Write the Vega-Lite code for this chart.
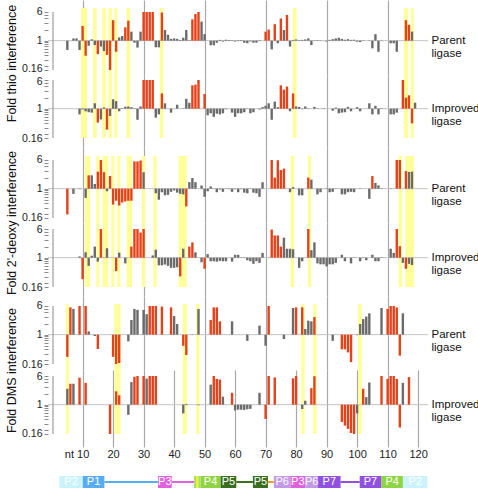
{
"$schema":"https://vega.github.io/schema/vega-lite/v6.json",
"padding":{"left":4,"top":0,"right":0,"bottom":0},
"spacing":17,
"config":{"view":{"stroke":null},"font":"Liberation Sans","axis":{"labelFont":"Liberation Sans","titleFont":"Liberation Sans"},"axisX":{"gridColor":"#a8a8a8","gridWidth":1.2,"labelOverlap":false,"labelSeparation":0,"labelBound":false,"labelFlush":false}},
"datasets":{
"thioBands":[{"s":9.5,"e":11.5},{"s":13.4,"e":14.6},{"s":16.4,"e":17.6},{"s":18.5,"e":19.6},{"s":20.4,"e":21.4},{"s":24.4,"e":25.6},{"s":35.3,"e":36.5},{"s":78.9,"e":80.1},{"s":115.3,"e":116.7},{"s":117.6,"e":118.6}],
"deoxyBands":[{"s":10.7,"e":12.5},{"s":14.5,"e":15.5},{"s":16.6,"e":18.4},{"s":19.4,"e":20.4},{"s":21.4,"e":22.4},{"s":24.4,"e":26.2},{"s":29.4,"e":30.5},{"s":33.2,"e":34.3},{"s":41.5,"e":44.1},{"s":78.2,"e":79.3},{"s":83.8,"e":84.9},{"s":113.6,"e":114.7},{"s":115.8,"e":118.6}],
"dmsBands":[{"s":4.5,"e":5.5},{"s":20.4,"e":22.4},{"s":42.8,"e":44.2},{"s":47.2,"e":48.3},{"s":81.7,"e":82.8},{"s":85.6,"e":86.7},{"s":100.3,"e":101.5}],
"thioP":[{"nt":5,"v":0.56,"c":"g"},{"nt":7,"v":1.15,"c":"g"},{"nt":8,"v":1.15,"c":"g"},{"nt":9,"v":0.56,"c":"g"},{"nt":10,"v":2.5,"c":"r"},{"nt":11,"v":0.39,"c":"r"},{"nt":12,"v":0.73,"c":"g"},{"nt":13,"v":1.09,"c":"g"},{"nt":14,"v":0.76,"c":"g"},{"nt":15,"v":0.43,"c":"r"},{"nt":16,"v":0.69,"c":"g"},{"nt":17,"v":0.52,"c":"g"},{"nt":18,"v":0.41,"c":"r"},{"nt":19,"v":0.16,"c":"r"},{"nt":20,"v":3.6,"c":"r"},{"nt":21,"v":0.5,"c":"r"},{"nt":22,"v":1.23,"c":"g"},{"nt":23,"v":1.34,"c":"g"},{"nt":24,"v":2.3,"c":"r"},{"nt":25,"v":3.5,"c":"r"},{"nt":26,"v":1.76,"c":"g"},{"nt":27,"v":0.88,"c":"g"},{"nt":28,"v":0.65,"c":"g"},{"nt":29,"v":1.76,"c":"g"},{"nt":30,"v":6,"c":"r"},{"nt":31,"v":6,"c":"r"},{"nt":32,"v":6,"c":"r"},{"nt":33,"v":6,"c":"r"},{"nt":34,"v":0.66,"c":"g"},{"nt":35,"v":0.66,"c":"g"},{"nt":36,"v":5.8,"c":"r"},{"nt":37,"v":1.95,"c":"g"},{"nt":38,"v":1.45,"c":"g"},{"nt":39,"v":1.12,"c":"g"},{"nt":40,"v":1.15,"c":"g"},{"nt":41,"v":1.12,"c":"g"},{"nt":42,"v":1.05,"c":"g"},{"nt":43,"v":1.2,"c":"g"},{"nt":44,"v":1.95,"c":"g"},{"nt":45,"v":1.03,"c":"g"},{"nt":46,"v":3.8,"c":"r"},{"nt":47,"v":5.3,"c":"r"},{"nt":48,"v":6,"c":"r"},{"nt":49,"v":3.3,"c":"g"},{"nt":50,"v":1.5,"c":"g"},{"nt":52,"v":0.75,"c":"g"},{"nt":53,"v":0.75,"c":"g"},{"nt":54,"v":0.88,"c":"g"},{"nt":55,"v":1.05,"c":"g"},{"nt":56,"v":0.95,"c":"g"},{"nt":57,"v":1.06,"c":"g"},{"nt":58,"v":1.04,"c":"g"},{"nt":59,"v":1.03,"c":"g"},{"nt":60,"v":0.95,"c":"g"},{"nt":61,"v":1.04,"c":"g"},{"nt":62,"v":1.04,"c":"g"},{"nt":63,"v":0.88,"c":"g"},{"nt":64,"v":0.85,"c":"g"},{"nt":65,"v":0.95,"c":"g"},{"nt":66,"v":0.88,"c":"g"},{"nt":67,"v":0.88,"c":"g"},{"nt":68,"v":1.03,"c":"g"},{"nt":70,"v":1.76,"c":"r"},{"nt":71,"v":2.0,"c":"r"},{"nt":72,"v":0.58,"c":"g"},{"nt":73,"v":2.8,"c":"r"},{"nt":74,"v":0.85,"c":"g"},{"nt":75,"v":4.0,"c":"r"},{"nt":76,"v":1.95,"c":"g"},{"nt":77,"v":5.0,"c":"r"},{"nt":78,"v":0.69,"c":"g"},{"nt":79,"v":1.05,"c":"g"},{"nt":80,"v":1.08,"c":"g"},{"nt":81,"v":1.03,"c":"g"},{"nt":82,"v":1.05,"c":"g"},{"nt":83,"v":1.08,"c":"g"},{"nt":84,"v":1.15,"c":"g"},{"nt":85,"v":0.76,"c":"g"},{"nt":86,"v":1.02,"c":"g"},{"nt":87,"v":1.03,"c":"g"},{"nt":88,"v":1.02,"c":"g"},{"nt":90,"v":0.95,"c":"g"},{"nt":91,"v":1.05,"c":"g"},{"nt":92,"v":1.1,"c":"g"},{"nt":93,"v":1.15,"c":"g"},{"nt":94,"v":1.2,"c":"g"},{"nt":95,"v":1.12,"c":"g"},{"nt":96,"v":1.06,"c":"g"},{"nt":97,"v":1.1,"c":"g"},{"nt":98,"v":1.05,"c":"g"},{"nt":99,"v":1.06,"c":"g"},{"nt":100,"v":0.94,"c":"g"},{"nt":101,"v":0.92,"c":"g"},{"nt":102,"v":1.02,"c":"g"},{"nt":104,"v":1.02,"c":"g"},{"nt":105,"v":0.62,"c":"g"},{"nt":106,"v":1.5,"c":"g"},{"nt":107,"v":0.5,"c":"g"},{"nt":108,"v":1.02,"c":"g"},{"nt":111,"v":0.85,"c":"g"},{"nt":112,"v":0.85,"c":"g"},{"nt":113,"v":0.5,"c":"g"},{"nt":116,"v":3.6,"c":"r"},{"nt":117,"v":2.7,"c":"r"},{"nt":118,"v":1.76,"c":"g"}],
"thioI":[{"nt":9,"v":0.7,"c":"g"},{"nt":10,"v":0.95,"c":"g"},{"nt":11,"v":0.85,"c":"g"},{"nt":12,"v":0.8,"c":"g"},{"nt":13,"v":0.78,"c":"g"},{"nt":14,"v":1.4,"c":"g"},{"nt":15,"v":0.42,"c":"r"},{"nt":16,"v":0.51,"c":"g"},{"nt":17,"v":1.08,"c":"g"},{"nt":18,"v":0.27,"c":"r"},{"nt":19,"v":0.63,"c":"g"},{"nt":20,"v":1.8,"c":"g"},{"nt":21,"v":1.6,"c":"g"},{"nt":22,"v":0.85,"c":"g"},{"nt":23,"v":1.03,"c":"g"},{"nt":24,"v":1.13,"c":"g"},{"nt":25,"v":1.15,"c":"g"},{"nt":26,"v":1.1,"c":"g"},{"nt":27,"v":1.03,"c":"g"},{"nt":28,"v":0.5,"c":"g"},{"nt":29,"v":1.15,"c":"g"},{"nt":30,"v":6,"c":"r"},{"nt":31,"v":6,"c":"r"},{"nt":32,"v":6,"c":"r"},{"nt":33,"v":6,"c":"r"},{"nt":34,"v":0.57,"c":"g"},{"nt":35,"v":0.7,"c":"g"},{"nt":36,"v":2.6,"c":"r"},{"nt":37,"v":1.4,"c":"g"},{"nt":39,"v":0.78,"c":"g"},{"nt":41,"v":1.28,"c":"g"},{"nt":43,"v":0.98,"c":"g"},{"nt":44,"v":1.85,"c":"g"},{"nt":45,"v":1.45,"c":"g"},{"nt":46,"v":4.3,"c":"r"},{"nt":47,"v":4.5,"c":"r"},{"nt":48,"v":6,"c":"r"},{"nt":50,"v":2.5,"c":"r"},{"nt":51,"v":0.66,"c":"g"},{"nt":52,"v":0.75,"c":"g"},{"nt":53,"v":0.6,"c":"g"},{"nt":54,"v":0.73,"c":"g"},{"nt":55,"v":0.7,"c":"g"},{"nt":56,"v":0.75,"c":"g"},{"nt":57,"v":0.96,"c":"g"},{"nt":59,"v":0.78,"c":"g"},{"nt":60,"v":0.6,"c":"g"},{"nt":61,"v":0.75,"c":"g"},{"nt":62,"v":0.75,"c":"g"},{"nt":63,"v":0.8,"c":"g"},{"nt":64,"v":0.98,"c":"g"},{"nt":65,"v":0.75,"c":"g"},{"nt":66,"v":0.8,"c":"g"},{"nt":68,"v":0.95,"c":"g"},{"nt":69,"v":1.1,"c":"g"},{"nt":70,"v":1.2,"c":"g"},{"nt":71,"v":1.4,"c":"g"},{"nt":72,"v":0.5,"c":"g"},{"nt":73,"v":1.55,"c":"g"},{"nt":74,"v":1.1,"c":"g"},{"nt":75,"v":4.3,"c":"r"},{"nt":76,"v":3.3,"c":"r"},{"nt":77,"v":4.0,"c":"r"},{"nt":78,"v":0.85,"c":"g"},{"nt":79,"v":2.6,"c":"r"},{"nt":80,"v":1.15,"c":"g"},{"nt":81,"v":1.12,"c":"g"},{"nt":82,"v":0.97,"c":"g"},{"nt":83,"v":1.15,"c":"g"},{"nt":84,"v":1.02,"c":"g"},{"nt":86,"v":1.12,"c":"g"},{"nt":87,"v":1.02,"c":"g"},{"nt":89,"v":1.03,"c":"g"},{"nt":92,"v":0.88,"c":"g"},{"nt":93,"v":1.07,"c":"g"},{"nt":94,"v":0.75,"c":"g"},{"nt":95,"v":0.78,"c":"g"},{"nt":96,"v":0.8,"c":"g"},{"nt":97,"v":1.12,"c":"g"},{"nt":98,"v":0.85,"c":"g"},{"nt":100,"v":1.1,"c":"g"},{"nt":101,"v":0.85,"c":"g"},{"nt":103,"v":1.0,"c":"g"},{"nt":104,"v":1.4,"c":"g"},{"nt":105,"v":0.7,"c":"g"},{"nt":106,"v":1.2,"c":"g"},{"nt":107,"v":0.7,"c":"g"},{"nt":108,"v":1.03,"c":"g"},{"nt":111,"v":0.7,"c":"g"},{"nt":112,"v":0.7,"c":"g"},{"nt":113,"v":0.78,"c":"g"},{"nt":115,"v":6,"c":"r"},{"nt":116,"v":2.0,"c":"r"},{"nt":117,"v":2.3,"c":"r"},{"nt":118,"v":0.4,"c":"r"},{"nt":119,"v":1.45,"c":"g"}],
"deoxyP":[{"nt":5,"v":0.2,"c":"r"},{"nt":7,"v":0.72,"c":"g"},{"nt":9,"v":0.97,"c":"g"},{"nt":11,"v":0.56,"c":"g"},{"nt":12,"v":2.3,"c":"r"},{"nt":13,"v":2.3,"c":"g"},{"nt":14,"v":1.34,"c":"g"},{"nt":15,"v":2.9,"c":"r"},{"nt":16,"v":6,"c":"r"},{"nt":17,"v":2.8,"c":"r"},{"nt":18,"v":0.85,"c":"g"},{"nt":19,"v":2.2,"c":"r"},{"nt":20,"v":0.37,"c":"r"},{"nt":21,"v":0.47,"c":"r"},{"nt":22,"v":0.35,"c":"r"},{"nt":23,"v":0.42,"c":"r"},{"nt":24,"v":0.45,"c":"r"},{"nt":25,"v":0.47,"c":"r"},{"nt":26,"v":0.47,"c":"r"},{"nt":27,"v":5.5,"c":"r"},{"nt":28,"v":5.5,"c":"r"},{"nt":29,"v":5.8,"c":"r"},{"nt":30,"v":2.8,"c":"g"},{"nt":34,"v":0.75,"c":"g"},{"nt":35,"v":0.5,"c":"g"},{"nt":36,"v":0.8,"c":"g"},{"nt":37,"v":0.66,"c":"g"},{"nt":38,"v":0.68,"c":"g"},{"nt":39,"v":0.82,"c":"g"},{"nt":40,"v":0.9,"c":"g"},{"nt":41,"v":0.78,"c":"g"},{"nt":42,"v":0.72,"c":"g"},{"nt":43,"v":0.7,"c":"g"},{"nt":44,"v":0.33,"c":"r"},{"nt":45,"v":1.5,"c":"g"},{"nt":46,"v":1.95,"c":"g"},{"nt":47,"v":1.5,"c":"g"},{"nt":49,"v":1.22,"c":"g"},{"nt":50,"v":0.6,"c":"g"},{"nt":51,"v":0.85,"c":"g"},{"nt":52,"v":1.15,"c":"g"},{"nt":53,"v":1.02,"c":"g"},{"nt":54,"v":0.8,"c":"g"},{"nt":55,"v":0.95,"c":"g"},{"nt":56,"v":0.82,"c":"g"},{"nt":57,"v":1.02,"c":"g"},{"nt":58,"v":0.97,"c":"g"},{"nt":59,"v":0.82,"c":"g"},{"nt":60,"v":0.97,"c":"g"},{"nt":61,"v":0.8,"c":"g"},{"nt":62,"v":0.97,"c":"g"},{"nt":63,"v":0.78,"c":"g"},{"nt":64,"v":0.75,"c":"g"},{"nt":65,"v":0.98,"c":"g"},{"nt":66,"v":0.78,"c":"g"},{"nt":67,"v":0.75,"c":"g"},{"nt":68,"v":0.6,"c":"g"},{"nt":69,"v":1.5,"c":"g"},{"nt":72,"v":6,"c":"r"},{"nt":73,"v":2.0,"c":"r"},{"nt":74,"v":5.9,"c":"r"},{"nt":75,"v":3.2,"c":"r"},{"nt":76,"v":3.5,"c":"r"},{"nt":78,"v":0.8,"c":"g"},{"nt":79,"v":1.1,"c":"g"},{"nt":81,"v":0.66,"c":"g"},{"nt":82,"v":0.66,"c":"g"},{"nt":84,"v":2.0,"c":"r"},{"nt":85,"v":1.76,"c":"g"},{"nt":87,"v":0.7,"c":"g"},{"nt":88,"v":0.8,"c":"g"},{"nt":90,"v":1.03,"c":"g"},{"nt":91,"v":0.8,"c":"g"},{"nt":92,"v":0.82,"c":"g"},{"nt":93,"v":1.02,"c":"g"},{"nt":95,"v":0.7,"c":"g"},{"nt":96,"v":0.7,"c":"g"},{"nt":97,"v":0.8,"c":"g"},{"nt":98,"v":0.82,"c":"g"},{"nt":99,"v":0.8,"c":"g"},{"nt":101,"v":1.02,"c":"g"},{"nt":104,"v":0.53,"c":"g"},{"nt":105,"v":2.2,"c":"r"},{"nt":106,"v":1.43,"c":"g"},{"nt":107,"v":1.23,"c":"g"},{"nt":108,"v":1.03,"c":"g"},{"nt":111,"v":1.02,"c":"g"},{"nt":113,"v":6,"c":"r"},{"nt":114,"v":6,"c":"r"},{"nt":116,"v":3.0,"c":"r"},{"nt":117,"v":2.85,"c":"g"},{"nt":118,"v":2.9,"c":"g"}],
"deoxyI":[{"nt":9,"v":1.08,"c":"g"},{"nt":10,"v":0.26,"c":"r"},{"nt":11,"v":1.4,"c":"g"},{"nt":12,"v":0.6,"c":"g"},{"nt":13,"v":1.13,"c":"g"},{"nt":14,"v":2.0,"c":"g"},{"nt":15,"v":0.78,"c":"g"},{"nt":16,"v":6,"c":"r"},{"nt":17,"v":1.02,"c":"g"},{"nt":18,"v":1.8,"c":"g"},{"nt":19,"v":1.0,"c":"g"},{"nt":21,"v":0.43,"c":"r"},{"nt":22,"v":1.37,"c":"g"},{"nt":24,"v":0.7,"c":"g"},{"nt":26,"v":2.0,"c":"r"},{"nt":27,"v":6,"c":"r"},{"nt":28,"v":6,"c":"r"},{"nt":29,"v":4.8,"c":"r"},{"nt":30,"v":6,"c":"r"},{"nt":33,"v":1.15,"c":"g"},{"nt":34,"v":1.65,"c":"g"},{"nt":35,"v":0.62,"c":"g"},{"nt":36,"v":0.62,"c":"g"},{"nt":37,"v":0.65,"c":"g"},{"nt":38,"v":0.6,"c":"g"},{"nt":39,"v":0.53,"c":"g"},{"nt":40,"v":0.53,"c":"g"},{"nt":41,"v":0.55,"c":"g"},{"nt":42,"v":0.31,"c":"r"},{"nt":43,"v":1.75,"c":"g"},{"nt":44,"v":1.0,"c":"g"},{"nt":45,"v":2.0,"c":"r"},{"nt":46,"v":2.6,"c":"r"},{"nt":47,"v":1.4,"c":"g"},{"nt":49,"v":0.75,"c":"g"},{"nt":50,"v":0.5,"c":"r"},{"nt":51,"v":1.25,"c":"g"},{"nt":52,"v":0.8,"c":"g"},{"nt":53,"v":0.8,"c":"g"},{"nt":54,"v":0.78,"c":"g"},{"nt":55,"v":0.82,"c":"g"},{"nt":56,"v":0.8,"c":"g"},{"nt":57,"v":0.8,"c":"g"},{"nt":59,"v":0.78,"c":"g"},{"nt":60,"v":1.2,"c":"g"},{"nt":61,"v":1.2,"c":"g"},{"nt":62,"v":1.02,"c":"g"},{"nt":63,"v":1.02,"c":"g"},{"nt":64,"v":0.85,"c":"g"},{"nt":65,"v":0.8,"c":"g"},{"nt":66,"v":0.68,"c":"g"},{"nt":67,"v":0.8,"c":"g"},{"nt":68,"v":0.72,"c":"g"},{"nt":69,"v":1.35,"c":"g"},{"nt":72,"v":5.8,"c":"r"},{"nt":73,"v":4.0,"c":"r"},{"nt":74,"v":4.0,"c":"r"},{"nt":75,"v":2.0,"c":"r"},{"nt":76,"v":3.5,"c":"g"},{"nt":77,"v":1.75,"c":"g"},{"nt":78,"v":1.75,"c":"g"},{"nt":79,"v":1.7,"c":"g"},{"nt":81,"v":0.53,"c":"g"},{"nt":82,"v":0.8,"c":"g"},{"nt":84,"v":6,"c":"r"},{"nt":85,"v":1.6,"c":"g"},{"nt":86,"v":2.6,"c":"g"},{"nt":87,"v":0.7,"c":"g"},{"nt":88,"v":0.66,"c":"g"},{"nt":89,"v":0.66,"c":"g"},{"nt":90,"v":0.58,"c":"g"},{"nt":91,"v":0.66,"c":"g"},{"nt":92,"v":0.66,"c":"g"},{"nt":93,"v":0.72,"c":"g"},{"nt":95,"v":1.2,"c":"g"},{"nt":96,"v":0.8,"c":"g"},{"nt":98,"v":0.7,"c":"g"},{"nt":99,"v":1.02,"c":"g"},{"nt":101,"v":0.8,"c":"g"},{"nt":102,"v":1.02,"c":"g"},{"nt":103,"v":0.85,"c":"g"},{"nt":105,"v":1.2,"c":"g"},{"nt":106,"v":0.8,"c":"g"},{"nt":107,"v":0.8,"c":"g"},{"nt":108,"v":1.03,"c":"g"},{"nt":111,"v":1.75,"c":"g"},{"nt":112,"v":1.35,"c":"g"},{"nt":113,"v":6,"c":"r"},{"nt":114,"v":2.05,"c":"r"},{"nt":115,"v":0.72,"c":"g"},{"nt":116,"v":0.5,"c":"r"},{"nt":117,"v":0.68,"c":"g"},{"nt":118,"v":0.63,"c":"g"}],
"dmsP":[{"nt":5,"v":0.25,"c":"r"},{"nt":6,"v":5.5,"c":"r"},{"nt":7,"v":5.0,"c":"g"},{"nt":9,"v":6,"c":"r"},{"nt":11,"v":6,"c":"r"},{"nt":12,"v":1.23,"c":"g"},{"nt":14,"v":0.92,"c":"g"},{"nt":15,"v":0.41,"c":"r"},{"nt":20,"v":0.25,"c":"r"},{"nt":21,"v":0.16,"c":"r"},{"nt":22,"v":0.17,"c":"r"},{"nt":25,"v":0.66,"c":"g"},{"nt":26,"v":2.5,"c":"g"},{"nt":27,"v":5.0,"c":"g"},{"nt":28,"v":4.7,"c":"g"},{"nt":30,"v":4.7,"c":"g"},{"nt":31,"v":3.6,"c":"g"},{"nt":32,"v":6,"c":"r"},{"nt":33,"v":6,"c":"r"},{"nt":34,"v":6,"c":"r"},{"nt":36,"v":5.8,"c":"r"},{"nt":39,"v":5.5,"c":"r"},{"nt":40,"v":3.2,"c":"g"},{"nt":41,"v":1.95,"c":"g"},{"nt":43,"v":0.5,"c":"r"},{"nt":44,"v":0.28,"c":"r"},{"nt":46,"v":1.02,"c":"g"},{"nt":48,"v":5.0,"c":"g"},{"nt":52,"v":2.5,"c":"r"},{"nt":53,"v":5.5,"c":"r"},{"nt":54,"v":5.5,"c":"r"},{"nt":55,"v":2.3,"c":"r"},{"nt":59,"v":2.3,"c":"g"},{"nt":64,"v":0.68,"c":"g"},{"nt":68,"v":1.76,"c":"g"},{"nt":70,"v":0.5,"c":"g"},{"nt":71,"v":6,"c":"r"},{"nt":76,"v":0.76,"c":"g"},{"nt":79,"v":5.3,"c":"g"},{"nt":80,"v":5.5,"c":"r"},{"nt":82,"v":5.5,"c":"r"},{"nt":83,"v":1.43,"c":"g"},{"nt":84,"v":2.4,"c":"g"},{"nt":85,"v":2.3,"c":"g"},{"nt":86,"v":3.0,"c":"r"},{"nt":92,"v":0.68,"c":"g"},{"nt":95,"v":0.4,"c":"r"},{"nt":96,"v":0.4,"c":"r"},{"nt":97,"v":0.33,"c":"r"},{"nt":98,"v":0.18,"c":"r"},{"nt":100,"v":0.97,"c":"g"},{"nt":101,"v":1.95,"c":"g"},{"nt":102,"v":2.65,"c":"g"},{"nt":103,"v":3.1,"c":"g"},{"nt":104,"v":3.8,"c":"g"},{"nt":108,"v":5.3,"c":"g"},{"nt":110,"v":5.0,"c":"r"},{"nt":111,"v":6,"c":"r"},{"nt":112,"v":6,"c":"r"},{"nt":113,"v":5.5,"c":"r"},{"nt":114,"v":0.27,"c":"r"},{"nt":115,"v":3.8,"c":"g"}],
"dmsI":[{"nt":5,"v":2.7,"c":"g"},{"nt":6,"v":3.7,"c":"r"},{"nt":7,"v":3.7,"c":"g"},{"nt":9,"v":5.4,"c":"r"},{"nt":11,"v":3.9,"c":"r"},{"nt":19,"v":0.16,"c":"r"},{"nt":21,"v":2.3,"c":"r"},{"nt":22,"v":1.8,"c":"r"},{"nt":25,"v":0.53,"c":"g"},{"nt":26,"v":4.1,"c":"g"},{"nt":27,"v":5.7,"c":"r"},{"nt":28,"v":6,"c":"r"},{"nt":30,"v":6,"c":"r"},{"nt":31,"v":5.1,"c":"g"},{"nt":32,"v":6,"c":"r"},{"nt":33,"v":6,"c":"r"},{"nt":34,"v":6,"c":"r"},{"nt":43,"v":0.58,"c":"g"},{"nt":44,"v":1.05,"c":"g"},{"nt":48,"v":0.97,"c":"g"},{"nt":52,"v":3.5,"c":"g"},{"nt":53,"v":6,"c":"r"},{"nt":54,"v":5.0,"c":"r"},{"nt":55,"v":4.8,"c":"r"},{"nt":56,"v":1.65,"c":"g"},{"nt":59,"v":2.1,"c":"r"},{"nt":60,"v":0.7,"c":"g"},{"nt":61,"v":0.73,"c":"g"},{"nt":62,"v":0.73,"c":"g"},{"nt":63,"v":0.72,"c":"g"},{"nt":64,"v":0.75,"c":"g"},{"nt":65,"v":0.77,"c":"g"},{"nt":68,"v":2.1,"c":"g"},{"nt":70,"v":0.41,"c":"r"},{"nt":71,"v":6,"c":"r"},{"nt":73,"v":5.5,"c":"r"},{"nt":79,"v":5.2,"c":"r"},{"nt":80,"v":6,"c":"r"},{"nt":82,"v":0.76,"c":"g"},{"nt":83,"v":1.28,"c":"g"},{"nt":85,"v":2.8,"c":"r"},{"nt":86,"v":5.9,"c":"r"},{"nt":95,"v":0.34,"c":"r"},{"nt":96,"v":0.27,"c":"r"},{"nt":97,"v":0.22,"c":"r"},{"nt":98,"v":0.17,"c":"r"},{"nt":99,"v":0.16,"c":"r"},{"nt":100,"v":0.58,"c":"g"},{"nt":102,"v":2.7,"c":"r"},{"nt":103,"v":1.6,"c":"g"},{"nt":104,"v":4.0,"c":"g"},{"nt":108,"v":6,"c":"r"},{"nt":110,"v":5.0,"c":"r"},{"nt":111,"v":6,"c":"r"},{"nt":112,"v":6,"c":"r"},{"nt":113,"v":5.0,"c":"r"},{"nt":114,"v":0.24,"c":"r"},{"nt":115,"v":3.9,"c":"g"},{"nt":117,"v":5.6,"c":"r"}],
"struct":[{"s":3.9,"e":11.4,"m":7.65,"lab":"P2","k":"P2"},{"s":11.4,"e":18.3,"m":14.85,"lab":"P1","k":"P1"},{"s":35.4,"e":39.8,"m":37.6,"lab":"P3","k":"P3"},{"s":46.9,"e":49.0,"m":47.9,"lab":"","k":"J"},{"s":47.6,"e":48.3,"m":47.9,"lab":"","k":"Y"},{"s":49.0,"e":55.4,"m":52.2,"lab":"P4","k":"P4"},{"s":55.4,"e":60.4,"m":57.9,"lab":"P5","k":"P5"},{"s":65.7,"e":70.5,"m":68.1,"lab":"P5","k":"P5"},{"s":72.4,"e":77.7,"m":75.05,"lab":"P6","k":"P6"},{"s":77.7,"e":82.4,"m":80.05,"lab":"P3","k":"P3"},{"s":82.4,"e":86.5,"m":84.45,"lab":"P6","k":"P6"},{"s":86.5,"e":93.7,"m":90.1,"lab":"P7","k":"P7"},{"s":99.8,"e":106.7,"m":103.25,"lab":"P7","k":"P7"},{"s":106.7,"e":113.6,"m":110.15,"lab":"P4","k":"P4"},{"s":113.6,"e":121.4,"m":117.5,"lab":"P2","k":"P2"}],
"links":[{"s":18.3,"e":35.4,"k":"P1"},{"s":39.8,"e":46.9,"k":"P3"},{"s":60.4,"e":65.7,"k":"P5"},{"s":70.5,"e":72.4,"k":"L"},{"s":93.7,"e":99.8,"k":"P7"}]
},
"vconcat":[
{"bounds":"flush","spacing":0,"vconcat":[
{"width":380,"height":75,"resolve":{"axis":{"y":"independent"}},"layer":[
 {"data":{"name":"thioBands"},"mark":{"type":"rect","color":"#ffff99"},"encoding":{"x":{"field":"s","type":"quantitative","scale":{"domain":[0.3,121.6],"nice":false,"zero":false},"axis":{"values":[10,20,30,40,50,60,70,80,90,100,110,120],"labels":false,"ticks":false,"domain":false,"grid":true,"title":null}},"x2":{"field":"e"},"y":{"datum":7.7,"type":"quantitative","scale":{"type":"log","domain":[0.117,12.7],"nice":false},"axis":null},"y2":{"datum":0.117}}},
 {"data":{"values":[{}]},"mark":{"type":"rule","color":"#c4c4c4","strokeWidth":1},"encoding":{"y":{"datum":1,"type":"quantitative","axis":{"orient":"right","values":[1],"labelExpr":"['Parent','ligase']","domain":false,"ticks":false,"grid":false,"labelFontSize":11.5,"labelColor":"#111","labelAlign":"left","labelBaseline":"middle","labelPadding":3,"labelLineHeight":13,"title":null}}}},
 {"data":{"values":[{}]},"mark":{"type":"rule","color":"#8a8a8a"},"encoding":{"x":{"datum":0.3,"type":"quantitative"},"y":{"datum":0.16,"type":"quantitative","axis":null},"y2":{"datum":6}}},
 {"data":{"name":"thioP"},"mark":{"type":"bar","width":2.4},"encoding":{"x":{"field":"nt","type":"quantitative"},"y":{"field":"v","type":"quantitative","axis":{"orient":"left","values":[0.16,0.2,0.3,0.4,0.5,0.6,0.7,0.8,0.9,1,2,3,4,5,6],"labelExpr":"datum.value==0.16||datum.value==1||datum.value==6 ? datum.value+'' : ''","grid":false,"domain":false,"tickColor":"#8a8a8a","tickSize":4,"labelFontSize":10.5,"labelColor":"#222","labelPadding":2,"labelOffset":{"condition":{"test":"datum.value==0.16","value":-1.5},"value":0},"title":"Fold thio interference","titleX":-37,"titleY":63,"titleAlign":"center","titleBaseline":"middle","titleFontSize":12.5,"titleFontWeight":"normal","titleColor":"#111"}},"y2":{"datum":1},"color":{"field":"c","type":"nominal","scale":{"domain":["r","g"],"range":["#e3421b","#6b6b6b"]},"legend":null}}}
]},
{"width":380,"height":73,"resolve":{"axis":{"y":"independent"}},"layer":[
 {"data":{"name":"thioBands"},"mark":{"type":"rect","color":"#ffff99"},"encoding":{"x":{"field":"s","type":"quantitative","scale":{"domain":[0.3,121.6],"nice":false,"zero":false},"axis":{"values":[10,20,30,40,50,60,70,80,90,100,110,120],"labels":false,"ticks":false,"domain":false,"grid":true,"title":null}},"x2":{"field":"e"},"y":{"datum":8.2,"type":"quantitative","scale":{"type":"log","domain":[0.0857,8.2],"nice":false},"axis":null},"y2":{"datum":0.16}}},
 {"data":{"values":[{}]},"mark":{"type":"rule","color":"#c4c4c4","strokeWidth":1},"encoding":{"y":{"datum":1,"type":"quantitative","axis":{"orient":"right","values":[1],"labelExpr":"['Improved','ligase']","domain":false,"ticks":false,"grid":false,"labelFontSize":11.5,"labelColor":"#111","labelAlign":"left","labelBaseline":"middle","labelPadding":3,"labelLineHeight":13,"title":null}}}},
 {"data":{"values":[{}]},"mark":{"type":"rule","color":"#8a8a8a"},"encoding":{"x":{"datum":0.3,"type":"quantitative"},"y":{"datum":0.16,"type":"quantitative","axis":null},"y2":{"datum":6}}},
 {"data":{"name":"thioI"},"mark":{"type":"bar","width":2.4},"encoding":{"x":{"field":"nt","type":"quantitative"},"y":{"field":"v","type":"quantitative","axis":{"orient":"left","values":[0.16,0.2,0.3,0.4,0.5,0.6,0.7,0.8,0.9,1,2,3,4,5,6],"labelExpr":"datum.value==0.16||datum.value==1||datum.value==6 ? datum.value+'' : ''","grid":false,"domain":false,"tickColor":"#8a8a8a","tickSize":4,"labelFontSize":10.5,"labelColor":"#222","labelPadding":2,"labelOffset":{"condition":{"test":"datum.value==6","value":1.5},"value":0},"title":null}},"y2":{"datum":1},"color":{"field":"c","type":"nominal","scale":{"domain":["r","g"],"range":["#e3421b","#6b6b6b"]},"legend":null}}}
]},
{"width":380,"height":75,"resolve":{"axis":{"y":"independent"}},"layer":[
 {"data":{"name":"deoxyBands"},"mark":{"type":"rect","color":"#ffff99"},"encoding":{"x":{"field":"s","type":"quantitative","scale":{"domain":[0.3,121.6],"nice":false,"zero":false},"axis":{"values":[10,20,30,40,50,60,70,80,90,100,110,120],"labels":false,"ticks":false,"domain":false,"grid":true,"title":null}},"x2":{"field":"e"},"y":{"datum":7.7,"type":"quantitative","scale":{"type":"log","domain":[0.117,12.7],"nice":false},"axis":null},"y2":{"datum":0.117}}},
 {"data":{"values":[{}]},"mark":{"type":"rule","color":"#c4c4c4","strokeWidth":1},"encoding":{"y":{"datum":1,"type":"quantitative","axis":{"orient":"right","values":[1],"labelExpr":"['Parent','ligase']","domain":false,"ticks":false,"grid":false,"labelFontSize":11.5,"labelColor":"#111","labelAlign":"left","labelBaseline":"middle","labelPadding":3,"labelLineHeight":13,"title":null}}}},
 {"data":{"values":[{}]},"mark":{"type":"rule","color":"#8a8a8a"},"encoding":{"x":{"datum":0.3,"type":"quantitative"},"y":{"datum":0.16,"type":"quantitative","axis":null},"y2":{"datum":6}}},
 {"data":{"name":"deoxyP"},"mark":{"type":"bar","width":2.4},"encoding":{"x":{"field":"nt","type":"quantitative"},"y":{"field":"v","type":"quantitative","axis":{"orient":"left","values":[0.16,0.2,0.3,0.4,0.5,0.6,0.7,0.8,0.9,1,2,3,4,5,6],"labelExpr":"datum.value==0.16||datum.value==1||datum.value==6 ? datum.value+'' : ''","grid":false,"domain":false,"tickColor":"#8a8a8a","tickSize":4,"labelFontSize":10.5,"labelColor":"#222","labelPadding":2,"title":"Fold 2'-deoxy interference","titleX":-37,"titleY":74.5,"titleAlign":"center","titleBaseline":"middle","titleFontSize":12.5,"titleFontWeight":"normal","titleColor":"#111"}},"y2":{"datum":1},"color":{"field":"c","type":"nominal","scale":{"domain":["r","g"],"range":["#e3421b","#6b6b6b"]},"legend":null}}}
]},
{"width":380,"height":73,"resolve":{"axis":{"y":"independent"}},"layer":[
 {"data":{"name":"deoxyBands"},"mark":{"type":"rect","color":"#ffff99"},"encoding":{"x":{"field":"s","type":"quantitative","scale":{"domain":[0.3,121.6],"nice":false,"zero":false},"axis":{"values":[10,20,30,40,50,60,70,80,90,100,110,120],"labels":false,"ticks":false,"domain":false,"grid":true,"title":null}},"x2":{"field":"e"},"y":{"datum":8.73,"type":"quantitative","scale":{"type":"log","domain":[0.0912,8.73],"nice":false},"axis":null},"y2":{"datum":0.16}}},
 {"data":{"values":[{}]},"mark":{"type":"rule","color":"#c4c4c4","strokeWidth":1},"encoding":{"y":{"datum":1,"type":"quantitative","axis":{"orient":"right","values":[1],"labelExpr":"['Improved','ligase']","domain":false,"ticks":false,"grid":false,"labelFontSize":11.5,"labelColor":"#111","labelAlign":"left","labelBaseline":"middle","labelPadding":3,"labelLineHeight":13,"title":null}}}},
 {"data":{"values":[{}]},"mark":{"type":"rule","color":"#8a8a8a"},"encoding":{"x":{"datum":0.3,"type":"quantitative"},"y":{"datum":0.16,"type":"quantitative","axis":null},"y2":{"datum":6}}},
 {"data":{"name":"deoxyI"},"mark":{"type":"bar","width":2.4},"encoding":{"x":{"field":"nt","type":"quantitative"},"y":{"field":"v","type":"quantitative","axis":{"orient":"left","values":[0.16,0.2,0.3,0.4,0.5,0.6,0.7,0.8,0.9,1,2,3,4,5,6],"labelExpr":"datum.value==0.16||datum.value==1||datum.value==6 ? datum.value+'' : ''","grid":false,"domain":false,"tickColor":"#8a8a8a","tickSize":4,"labelFontSize":10.5,"labelColor":"#222","labelPadding":2,"title":null}},"y2":{"datum":1},"color":{"field":"c","type":"nominal","scale":{"domain":["r","g"],"range":["#e3421b","#6b6b6b"]},"legend":null}}}
]},
{"width":380,"height":74,"resolve":{"axis":{"y":"independent"}},"layer":[
 {"data":{"name":"dmsBands"},"mark":{"type":"rect","color":"#ffff99"},"encoding":{"x":{"field":"s","type":"quantitative","scale":{"domain":[0.3,121.6],"nice":false,"zero":false},"axis":{"values":[10,20,30,40,50,60,70,80,90,100,110,120],"labels":false,"ticks":false,"domain":false,"grid":true,"title":null}},"x2":{"field":"e"},"y":{"datum":6.8,"type":"quantitative","scale":{"type":"log","domain":[0.11,11.2],"nice":false},"axis":null},"y2":{"datum":0.11}}},
 {"data":{"values":[{}]},"mark":{"type":"rule","color":"#c4c4c4","strokeWidth":1},"encoding":{"y":{"datum":1,"type":"quantitative","axis":{"orient":"right","values":[1],"labelExpr":"['Parent','ligase']","domain":false,"ticks":false,"grid":false,"labelFontSize":11.5,"labelColor":"#111","labelAlign":"left","labelBaseline":"middle","labelPadding":3,"labelLineHeight":13,"title":null}}}},
 {"data":{"values":[{}]},"mark":{"type":"rule","color":"#8a8a8a"},"encoding":{"x":{"datum":0.3,"type":"quantitative"},"y":{"datum":0.16,"type":"quantitative","axis":null},"y2":{"datum":6}}},
 {"data":{"name":"dmsP"},"mark":{"type":"bar","width":2.4},"encoding":{"x":{"field":"nt","type":"quantitative"},"y":{"field":"v","type":"quantitative","axis":{"orient":"left","values":[0.16,0.2,0.3,0.4,0.5,0.6,0.7,0.8,0.9,1,2,3,4,5,6],"labelExpr":"datum.value==0.16||datum.value==1||datum.value==6 ? datum.value+'' : ''","grid":false,"domain":false,"tickColor":"#8a8a8a","tickSize":4,"labelFontSize":10.5,"labelColor":"#222","labelPadding":2,"title":"Fold DMS interference","titleX":-37,"titleY":74,"titleAlign":"center","titleBaseline":"middle","titleFontSize":12.5,"titleFontWeight":"normal","titleColor":"#111"}},"y2":{"datum":1},"color":{"field":"c","type":"nominal","scale":{"domain":["r","g"],"range":["#e3421b","#6b6b6b"]},"legend":null}}}
]},
{"width":380,"height":77,"resolve":{"axis":{"y":"independent"}},"layer":[
 {"data":{"name":"dmsBands"},"mark":{"type":"rect","color":"#ffff99"},"encoding":{"x":{"field":"s","type":"quantitative","scale":{"domain":[0.3,121.6],"nice":false,"zero":false},"axis":{"values":[10,20,30,40,50,60,70,80,90,100,110,120],"labelExpr":"datum.value==10 ? 'nt 10' : datum.label","labelOffset":{"condition":{"test":"datum.value==10","value":-6},"value":0},"labelOverlap":false,"labelFontSize":11,"labelColor":"#222","labelPadding":1,"ticks":false,"domain":false,"grid":true,"title":null}},"x2":{"field":"e"},"y":{"datum":8.73,"type":"quantitative","scale":{"type":"log","domain":[0.071,8.73],"nice":false},"axis":null},"y2":{"datum":0.16}}},
 {"data":{"values":[{}]},"mark":{"type":"rule","color":"#c4c4c4","strokeWidth":1},"encoding":{"y":{"datum":1,"type":"quantitative","axis":{"orient":"right","values":[1],"labelExpr":"['Improved','ligase']","domain":false,"ticks":false,"grid":false,"labelFontSize":11.5,"labelColor":"#111","labelAlign":"left","labelBaseline":"middle","labelPadding":3,"labelLineHeight":13,"title":null}}}},
 {"data":{"values":[{}]},"mark":{"type":"rule","color":"#8a8a8a"},"encoding":{"x":{"datum":0.3,"type":"quantitative","axis":{"values":[10,20,30,40,50,60,70,80,90,100,110,120],"labelExpr":"datum.value==10 ? 'nt 10' : datum.label","labelOffset":{"condition":{"test":"datum.value==10","value":-6},"value":0},"labelOverlap":false,"labelFontSize":11,"labelColor":"#222","labelPadding":1,"ticks":false,"domain":false,"grid":true,"title":null}},"y":{"datum":0.16,"type":"quantitative","axis":null},"y2":{"datum":6}}},
 {"data":{"name":"dmsI"},"mark":{"type":"bar","width":2.4},"encoding":{"x":{"field":"nt","type":"quantitative","axis":{"values":[10,20,30,40,50,60,70,80,90,100,110,120],"labelExpr":"datum.value==10 ? 'nt 10' : datum.label","labelOffset":{"condition":{"test":"datum.value==10","value":-6},"value":0},"labelOverlap":false,"labelFontSize":11,"labelColor":"#222","labelPadding":1,"ticks":false,"domain":false,"grid":true,"title":null}},"y":{"field":"v","type":"quantitative","axis":{"orient":"left","values":[0.16,0.2,0.3,0.4,0.5,0.6,0.7,0.8,0.9,1,2,3,4,5,6],"labelExpr":"datum.value==0.16||datum.value==1||datum.value==6 ? datum.value+'' : ''","grid":false,"domain":false,"tickColor":"#8a8a8a","tickSize":4,"labelFontSize":10.5,"labelColor":"#222","labelPadding":2,"title":null}},"y2":{"datum":1},"color":{"field":"c","type":"nominal","scale":{"domain":["r","g"],"range":["#e3421b","#6b6b6b"]},"legend":null}}}
]}
]},
{"width":380,"height":12,"layer":[
 {"data":{"name":"links"},"mark":{"type":"rule","strokeWidth":2},"encoding":{"x":{"field":"s","type":"quantitative","scale":{"domain":[0.3,121.6],"nice":false,"zero":false},"axis":null},"x2":{"field":"e"},"stroke":{"field":"k","type":"nominal","scale":{"domain":["P1","P2","P3","P4","P5","P6","P7","J","Y","L"],"range":["#5aacf2","#ccf2fb","#e062dc","#8fd444","#3b6e1f","#c39ae6","#9050e0","#a6e26a","#f5f532","#e8a030"]},"legend":null}}},
 {"data":{"name":"struct"},"mark":{"type":"rect"},"encoding":{"x":{"field":"s","type":"quantitative"},"x2":{"field":"e"},"fill":{"field":"k","type":"nominal","scale":{"domain":["P1","P2","P3","P4","P5","P6","P7","J","Y","L"],"range":["#5aacf2","#ccf2fb","#e062dc","#8fd444","#3b6e1f","#c39ae6","#9050e0","#a6e26a","#f5f532","#e8a030"]},"legend":null}}},
 {"data":{"name":"struct"},"mark":{"type":"text","color":"white","fontSize":11,"baseline":"middle"},"encoding":{"x":{"field":"m","type":"quantitative"},"text":{"field":"lab"}}}
]}
]
}
